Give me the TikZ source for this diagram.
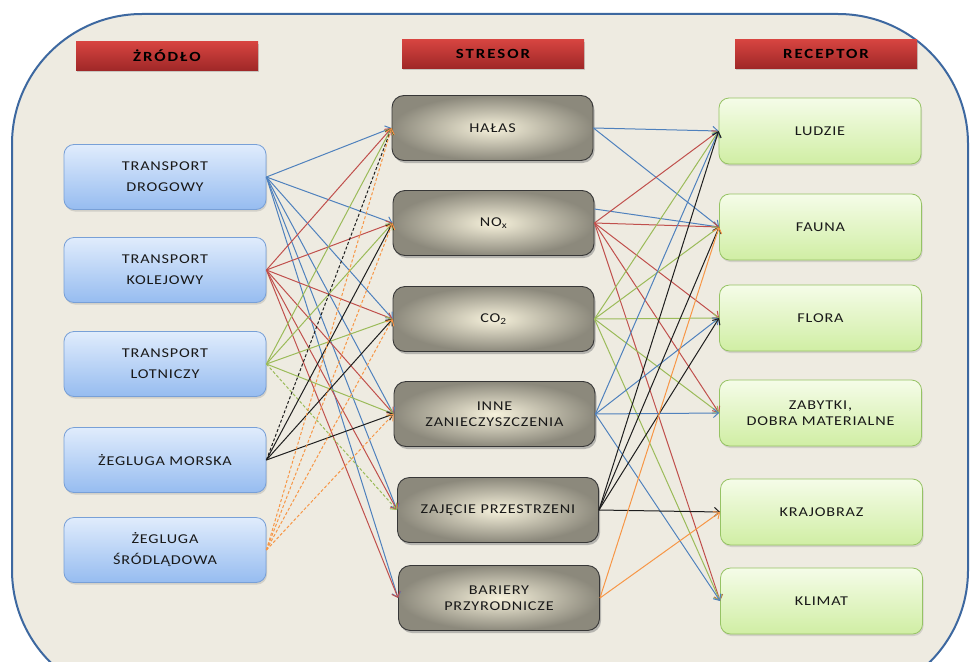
\documentclass[tikz,border=0pt]{standalone}
\usepackage{fontspec}
\setmainfont{Carlito}[FakeStretch=1.2,LetterSpace=6]
\usetikzlibrary{arrows.meta,shadows}

\definecolor{bgFill}{RGB}{238,235,225}
\definecolor{bgLine}{RGB}{61,104,160}
\definecolor{hdTop}{RGB}{214,68,64}
\definecolor{hdBot}{RGB}{160,40,40}
\definecolor{srcTop}{RGB}{224,236,252}
\definecolor{srcBot}{RGB}{150,188,240}
\definecolor{srcLine}{RGB}{120,160,215}
\definecolor{midIn}{RGB}{247,242,220}
\definecolor{midOut}{RGB}{140,137,124}
\definecolor{midLine}{RGB}{55,55,55}
\definecolor{recTop}{RGB}{245,252,232}
\definecolor{recBot}{RGB}{208,238,164}
\definecolor{recLine}{RGB}{150,195,100}
\definecolor{lnBlue}{RGB}{79,129,189}
\definecolor{lnRed}{RGB}{192,80,77}
\definecolor{lnGreen}{RGB}{155,187,89}
\definecolor{lnBlack}{RGB}{30,30,30}
\definecolor{lnOrange}{RGB}{247,150,70}

\begin{document}
\begin{tikzpicture}[x=1pt,y=-1pt,
  header/.style={top color=hdTop,bottom color=hdBot,minimum width=182pt,minimum height=28pt,
    inner sep=0pt,font=\fontsize{14}{16}\selectfont\bfseries\addfontfeatures{LetterSpace=14},text=black,
    drop shadow={opacity=0.35,shadow xshift=1pt,shadow yshift=-2pt}},
  zrodlo/.style={top color=srcTop,bottom color=srcBot,draw=srcLine,line width=0.8pt,
    rounded corners=10pt,minimum width=202pt,minimum height=65pt,align=center,
    font=\fontsize{13.5}{21}\selectfont,text=black!90,
    drop shadow={opacity=0.25,shadow xshift=1pt,shadow yshift=-2pt}},
  stresor/.style={inner color=midIn,outer color=midOut,draw=midLine,line width=0.9pt,
    rounded corners=12pt,minimum width=201pt,minimum height=65pt,align=center,
    font=\fontsize{13.5}{15.5}\selectfont,text=black!90,
    drop shadow={opacity=0.5,shadow xshift=1.5pt,shadow yshift=-2.5pt}},
  receptor/.style={top color=recTop,bottom color=recBot,draw=recLine,line width=0.8pt,
    rounded corners=10pt,minimum width=202pt,minimum height=66pt,align=center,
    font=\fontsize{13.5}{16}\selectfont,text=black!90,
    drop shadow={opacity=0.25,shadow xshift=1pt,shadow yshift=-2pt}},
  lnk/.style={line width=1pt,-{Straight Barb[length=5pt,width=9pt]}},
  lnkdash/.style={lnk,dash pattern=on 3pt off 2pt}]
\path[use as bounding box,fill=white] (0,0) rectangle (973,661);
\begin{scope}
\clip (0,0) rectangle (973,661);
\path[draw=bgLine,line width=2pt,fill=bgFill,rounded corners=130pt] (12,14) rectangle (968,700);
\end{scope}

% headers
\node[header] (hzrodlo) at (167,56) {ŻRÓDŁO};
\node[header] (hstresor) at (493,54) {STRESOR};
\node[header] (hreceptor) at (826,54) {RECEPTOR};

% sources
\node[zrodlo] (drogowy) at (165,177) {TRANSPORT\\DROGOWY};
\node[zrodlo] (kolejowy) at (165,270) {TRANSPORT\\KOLEJOWY};
\node[zrodlo] (lotniczy) at (165,364) {TRANSPORT\\LOTNICZY};
\node[zrodlo] (morska) at (165,460) {ŻEGLUGA MORSKA};
\node[zrodlo] (srodladowa) at (165,550) {ŻEGLUGA\\ŚRÓDLĄDOWA};

% stressors
\node[stresor] (halas) at (492.5,128) {HAŁAS};
\node[stresor] (nox) at (493.5,223) {NO\textsubscript{x}};
\node[stresor] (co) at (493.5,319) {CO\textsubscript{2}};
\node[stresor] (inne) at (494.5,414) {INNE\\ZANIECZYSZCZENIA};
\node[stresor] (zajecie) at (498,510) {ZAJĘCIE PRZESTRZENI};
\node[stresor] (bariery) at (499,598) {BARIERY\\PRZYRODNICZE};

% receptors
\node[receptor] (ludzie) at (820,131) {LUDZIE};
\node[receptor] (fauna) at (820.5,227) {FAUNA};
\node[receptor] (flora) at (820.5,318) {FLORA};
\node[receptor] (zabytki) at (820.5,413) {ZABYTKI,\\DOBRA MATERIALNE};
\node[receptor] (krajobraz) at (821.5,512) {KRAJOBRAZ};
\node[receptor] (klimat) at (821.5,601) {KLIMAT};

% source -> stressor
\draw[lnk,lnBlue] (drogowy.east) -- (halas.west);
\draw[lnk,lnBlue] (drogowy.east) -- (nox.west);
\draw[lnk,lnBlue] (drogowy.east) -- (co.west);
\draw[lnk,lnBlue] (drogowy.east) -- (inne.west);
\draw[lnk,lnBlue] (drogowy.east) -- (zajecie.west);
\draw[lnk,lnBlue] (drogowy.east) -- (bariery.west);

\draw[lnk,lnRed] (kolejowy.east) -- (halas.west);
\draw[lnk,lnRed] (kolejowy.east) -- (nox.west);
\draw[lnk,lnRed] (kolejowy.east) -- (co.west);
\draw[lnk,lnRed] (kolejowy.east) -- (inne.west);
\draw[lnk,lnRed] (kolejowy.east) -- (zajecie.west);
\draw[lnk,lnRed] (kolejowy.east) -- (bariery.west);

\draw[lnk,lnGreen] (lotniczy.east) -- (halas.west);
\draw[lnk,lnGreen] (lotniczy.east) -- (nox.west);
\draw[lnk,lnGreen] (lotniczy.east) -- (co.west);
\draw[lnk,lnGreen] (lotniczy.east) -- (inne.west);
\draw[lnkdash,lnGreen] (lotniczy.east) -- (zajecie.west);

\draw[lnkdash,lnBlack] (morska.east) -- (halas.west);
\draw[lnk,lnBlack] (morska.east) -- (nox.west);
\draw[lnk,lnBlack] (morska.east) -- (co.west);
\draw[lnk,lnBlack] (morska.east) -- (inne.west);

\draw[lnkdash,lnOrange] (srodladowa.east) -- (halas.west);
\draw[lnkdash,lnOrange] (srodladowa.east) -- (nox.west);
\draw[lnkdash,lnOrange] (srodladowa.east) -- (co.west);
\draw[lnkdash,lnOrange] (srodladowa.east) -- (inne.west);

% stressor -> receptor
\draw[lnk,lnBlue] (halas.east) -- (ludzie.west);
\draw[lnk,lnBlue] (halas.east) -- (fauna.west);
\draw[lnk,lnBlue] ([yshift=14pt]nox.east) -- (fauna.west);

\draw[lnk,lnRed] (nox.east) -- (ludzie.west);
\draw[lnk,lnRed] (nox.east) -- (fauna.west);
\draw[lnk,lnRed] (nox.east) -- (flora.west);
\draw[lnk,lnRed] (nox.east) -- (zabytki.west);
\draw[lnk,lnRed] (nox.east) -- (klimat.west);

\draw[lnk,lnGreen] (co.east) -- (ludzie.west);
\draw[lnk,lnGreen] (co.east) -- (fauna.west);
\draw[lnk,lnGreen] (co.east) -- (flora.west);
\draw[lnk,lnGreen] (co.east) -- (zabytki.west);
\draw[lnk,lnGreen] (co.east) -- (klimat.west);

\draw[lnk,lnBlue] (inne.east) -- (ludzie.west);
\draw[lnk,lnBlue] (inne.east) -- (flora.west);
\draw[lnk,lnBlue] (inne.east) -- (zabytki.west);
\draw[lnk,lnBlue] (inne.east) -- (klimat.west);

\draw[lnk,lnBlack] (zajecie.east) -- (ludzie.west);
\draw[lnk,lnBlack] (zajecie.east) -- (fauna.west);
\draw[lnk,lnBlack] (zajecie.east) -- (flora.west);
\draw[lnk,lnBlack] (zajecie.east) -- (krajobraz.west);

\draw[lnk,lnOrange] (bariery.east) -- (fauna.west);
\draw[lnk,lnOrange] (bariery.east) -- (krajobraz.west);
\end{tikzpicture}
\end{document}
